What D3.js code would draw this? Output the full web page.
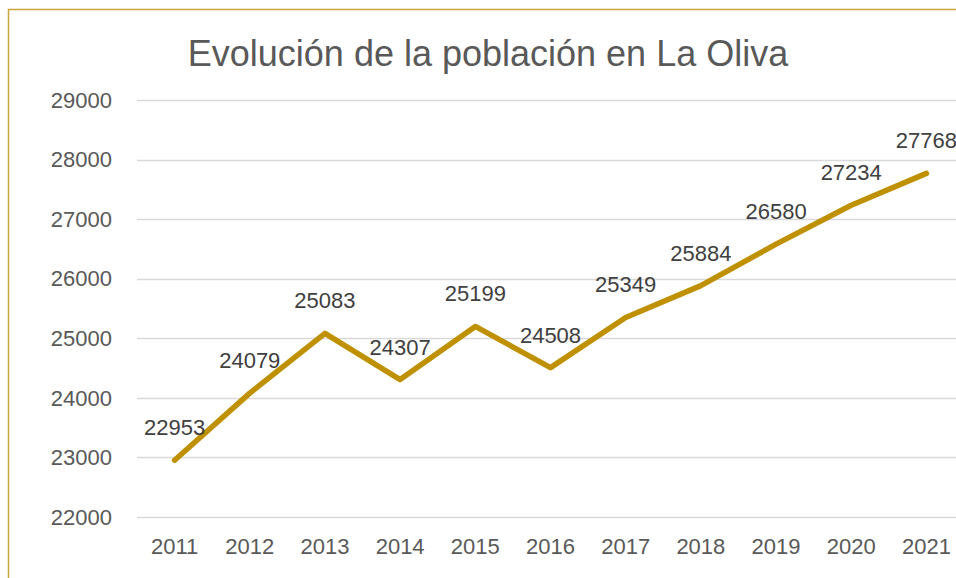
<!DOCTYPE html>
<html>
  <head>
    <meta charset="utf-8">
    <title>Evolución de la población en La Oliva</title>
    <script src="https://d3js.org/d3.v7.min.js"></script>
    <style>
      body { margin: 0; background: #fff; }
      text { font-family: "Liberation Sans", Arial, sans-serif; }
    </style>
  </head>
  <body>
    <div id="chart"></div>
    <script>
      // datos
      var years = ["2011", "2012", "2013", "2014", "2015", "2016", "2017", "2018", "2019", "2020", "2021"];
      var population = [22953, 24079, 25083, 24307, 25199, 24508, 25349, 25884, 26580, 27234, 27768];
      var yTicks = [22000, 23000, 24000, 25000, 26000, 27000, 28000, 29000];

      var width = 956;
      var height = 578;

      var svg = d3.select("#chart")
        .append("svg")
        .attr("width", width)
        .attr("height", height);

      svg.append("rect")
        .attr("width", width)
        .attr("height", height)
        .attr("fill", "#fff");

      // borde del gráfico (se sale por la derecha y abajo)
      svg.append("rect")
        .attr("x", 8.5)
        .attr("y", 9.5)
        .attr("width", 1000)
        .attr("height", 1000)
        .attr("fill", "none")
        .attr("stroke", "#C9A53C")
        .attr("stroke-width", 1.5);

      svg.append("text")
        .attr("x", 488)
        .attr("y", 66)
        .attr("text-anchor", "middle")
        .style("font-size", "36px")
        .style("fill", "#595959")
        .text("Evolución de la población en La Oliva");

      var x = d3.scaleBand()
        .domain(years)
        .range([137, 964]);

      var y = d3.scaleLinear()
        .domain([22000, 29000])
        .range([517, 100]);

      svg.selectAll(".grid")
        .data(yTicks)
        .enter()
        .append("line")
        .attr("class", "grid")
        .attr("x1", 137)
        .attr("x2", 964)
        .attr("y1", function(d) { return Math.round(y(d)) + 0.5; })
        .attr("y2", function(d) { return Math.round(y(d)) + 0.5; })
        .style("stroke", "#D9D9D9")
        .style("stroke-width", 1.5);

      svg.selectAll(".ylab")
        .data(yTicks)
        .enter()
        .append("text")
        .attr("class", "ylab")
        .attr("x", 112)
        .attr("y", function(d) { return y(d); })
        .attr("dy", "0.35em")
        .attr("text-anchor", "end")
        .style("font-size", "22px")
        .style("fill", "#595959")
        .text(function(d) { return d; });

      svg.selectAll(".xlab")
        .data(years)
        .enter()
        .append("text")
        .attr("class", "xlab")
        .attr("x", function(d) { return x(d) + x.bandwidth() / 2; })
        .attr("y", 554)
        .attr("text-anchor", "middle")
        .style("font-size", "22px")
        .style("fill", "#595959")
        .text(function(d) { return d; });

      var line = d3.line()
        .x(function(d, i) { return x(years[i]) + x.bandwidth() / 2; })
        .y(function(d) { return y(d); });

      svg.append("path")
        .attr("d", line(population))
        .attr("fill", "none")
        .attr("stroke", "#BF9000")
        .attr("stroke-width", 5.5)
        .attr("stroke-linecap", "round")
        .attr("stroke-linejoin", "round");

      svg.selectAll(".dlab")
        .data(population)
        .enter()
        .append("text")
        .attr("class", "dlab")
        .attr("x", function(d, i) { return x(years[i]) + x.bandwidth() / 2; })
        .attr("y", function(d) { return y(d) - 25; })
        .attr("text-anchor", "middle")
        .style("font-size", "22px")
        .style("fill", "#404040")
        .text(function(d) { return d; });
    </script>
  </body>
</html>
